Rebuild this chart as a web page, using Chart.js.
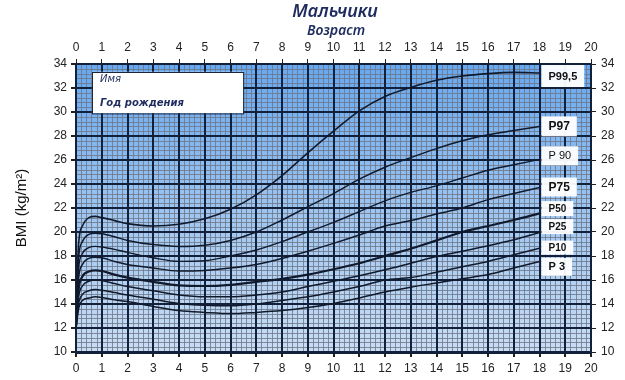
<!DOCTYPE html>
<html>
<head>
<meta charset="utf-8">
<script src="https://cdn.jsdelivr.net/npm/chart.js@4.4.1/dist/chart.umd.min.js"></script>
<style>
  html,body{margin:0;padding:0;background:#fff;}
  #wrap{width:625px;height:380px;position:relative;}
</style>
</head>
<body>
<div id="wrap"><canvas id="c" width="625" height="380"></canvas></div>
<script>
// ---- data ----
const chartTitle = 'Мальчики';
const xAxisTitle = 'Возраст';
const yAxisTitle = 'BMI (kg/m²)';
const nameLabel = 'Имя';
const birthLabel = 'Год рождения';

const ages   = [0, 0.1, 0.25, 0.5, 0.75, 1, 1.5, 2, 3, 4, 5, 6, 7, 8, 9, 10, 11, 12, 13, 14, 15, 16, 17, 18];
const p99_5  = [12.6, 19.0, 20.5, 21.2, 21.3, 21.2, 20.95, 20.7, 20.5, 20.65, 21.1, 21.9, 23.1, 24.7, 26.6, 28.4, 30.1, 31.3, 32.05, 32.65, 33.0, 33.2, 33.3, 33.25];
const p97    = [12.5, 17.8, 19.2, 19.8, 19.9, 19.85, 19.6, 19.3, 18.95, 18.8, 18.9, 19.3, 20.0, 21.0, 22.1, 23.2, 24.4, 25.4, 26.2, 26.95, 27.6, 28.1, 28.45, 28.8];
const p90    = [12.4, 16.9, 18.2, 18.7, 18.8, 18.75, 18.55, 18.3, 17.85, 17.55, 17.6, 18.0, 18.5, 19.2, 20.0, 20.8, 21.7, 22.6, 23.3, 23.85, 24.5, 25.15, 25.6, 26.05];
const p75    = [12.3, 16.1, 17.3, 17.8, 17.9, 17.85, 17.55, 17.3, 17.0, 16.75, 16.8, 17.0, 17.3, 17.8, 18.4, 19.05, 19.75, 20.5, 20.95, 21.5, 22.0, 22.7, 23.2, 23.7];
const p50    = [12.2, 15.2, 16.3, 16.7, 16.8, 16.75, 16.45, 16.2, 15.85, 15.55, 15.5, 15.6, 15.85, 16.1, 16.45, 16.9, 17.4, 18.0, 18.6, 19.3, 20.0, 20.5, 21.0, 21.55];
const p25    = [12.1, 14.6, 15.5, 15.9, 16.0, 15.95, 15.7, 15.45, 15.1, 14.75, 14.6, 14.6, 14.75, 15.0, 15.45, 15.9, 16.35, 16.85, 17.4, 17.95, 18.4, 18.85, 19.35, 19.95];
const p10    = [12.0, 14.0, 14.8, 15.1, 15.2, 15.15, 14.95, 14.75, 14.4, 14.05, 13.9, 13.85, 14.0, 14.3, 14.6, 15.0, 15.45, 16.0, 16.2, 16.65, 17.1, 17.55, 18.1, 18.65];
const p3     = [11.9, 13.6, 14.3, 14.5, 14.6, 14.55, 14.35, 14.2, 13.8, 13.45, 13.3, 13.2, 13.3, 13.45, 13.7, 14.05, 14.5, 15.0, 15.4, 15.75, 16.1, 16.45, 17.0, 17.55];

const seriesNames  = ['P99,5', 'P97', 'P 90', 'P75', 'P50', 'P25', 'P10', 'P 3'];
const seriesValues = [p99_5, p97, p90, p75, p50, p25, p10, p3];

const xTickValues = [0,1,2,3,4,5,6,7,8,9,10,11,12,13,14,15,16,17,18,19,20];
const yTickValues = [10,12,14,16,18,20,22,24,26,28,30,32,34];

// ---- styles (not data) ----
const labelAnchorBMI = [33.0, 28.8, 26.35, 23.75, 21.95, 20.45, 18.7, 17.1];
const labelBoxH      = [22, 20, 19, 19, 15, 15, 14, 18];
const labelFonts     = ['bold 11px "Liberation Sans"', 'bold 12px "Liberation Sans"', '11px "Liberation Sans"',
                        'bold 12px "Liberation Sans"', 'bold 10px "Liberation Sans"', 'bold 10px "Liberation Sans"',
                        'bold 10px "Liberation Sans"', 'bold 11px "Liberation Sans"'];
const lineWidths     = [1.6, 1.5, 1.4, 1.5, 2.2, 1.5, 1.5, 1.5];
const NAVY = '#1d2b5e';
const GRID = '#13203a';

const datasets = seriesValues.map((vals, i) => ({
  label: seriesNames[i],
  data: ages.map((a, k) => ({x: a, y: vals[k]})),
  borderColor: '#101a2c',
  borderWidth: lineWidths[i],
  pointRadius: 0,
  fill: false,
  cubicInterpolationMode: 'monotone'
}));

const bgPlugin = {
  id: 'bg',
  beforeDraw(chart) {
    const {ctx, chartArea: a, scales} = chart;
    const xs = scales.x, ys = scales.y;
    ctx.save();
    const g = ctx.createLinearGradient(0, a.top, 0, a.bottom);
    g.addColorStop(0, '#66a8f0');
    g.addColorStop(0.5, '#9cc4f0');
    g.addColorStop(1, '#c8ddf4');
    ctx.fillStyle = g;
    ctx.fillRect(a.left, a.top, a.right - a.left, a.bottom - a.top);
    ctx.strokeStyle = 'rgba(110,118,134,0.8)';
    ctx.lineWidth = 1;
    ctx.beginPath();
    for (let k = 0; k <= 100; k++) {
      if (k % 5 === 0) continue;
      const px = Math.round(xs.getPixelForValue(k * 0.2)) + 0.5;
      ctx.moveTo(px, a.top); ctx.lineTo(px, a.bottom);
    }
    for (let k = 0; k <= 60; k++) {
      if (k % 5 === 0) continue;
      const py = Math.round(ys.getPixelForValue(10 + k * 0.4)) + 0.5;
      ctx.moveTo(a.left, py); ctx.lineTo(a.right, py);
    }
    ctx.stroke();
    ctx.restore();
  },
  afterDraw(chart) {
    const {ctx, chartArea: a, scales} = chart;
    const xs = scales.x, ys = scales.y;
    ctx.save();
    // titles
    ctx.fillStyle = NAVY;
    ctx.textAlign = 'center';
    ctx.textBaseline = 'middle';
    ctx.font = 'italic 600 18px "Noto Sans"';
    ctx.fillText(chartTitle, 335, 12);
    ctx.font = 'italic 600 14px "Noto Sans"';
    ctx.fillText(xAxisTitle, 336, 31);

    // name box
    const bx1 = xs.getPixelForValue(0.62), bx2 = xs.getPixelForValue(6.49);
    const by1 = ys.getPixelForValue(33.35), by2 = ys.getPixelForValue(29.9);
    ctx.fillStyle = '#ffffff';
    ctx.fillRect(bx1, by1, bx2 - bx1, by2 - by1);
    ctx.strokeStyle = '#1b2540';
    ctx.lineWidth = 1;
    ctx.strokeRect(Math.round(bx1) + 0.5, Math.round(by1) + 0.5, bx2 - bx1, by2 - by1);
    ctx.fillStyle = NAVY;
    ctx.textAlign = 'left';
    ctx.font = 'italic 10px "DejaVu Sans"';
    ctx.fillText(nameLabel, bx1 + 8, by1 + 8);
    ctx.font = 'italic bold 10px "DejaVu Sans"';
    ctx.fillText(birthLabel, bx1 + 8, by1 + 32);

    // percentile label boxes
    const x0 = xs.getPixelForValue(18) + 2;
    seriesNames.forEach((name, i) => {
      ctx.font = labelFonts[i];
      const w = ctx.measureText(name).width + 14;
      const cy = ys.getPixelForValue(labelAnchorBMI[i]);
      const h = labelBoxH[i];
      ctx.fillStyle = 'rgba(255,255,255,0.95)';
      ctx.fillRect(x0, cy - h / 2, w, h);
      ctx.fillStyle = '#111';
      ctx.textAlign = 'center';
      ctx.fillText(name, x0 + w / 2, cy + 0.5);
    });
    ctx.restore();
  }
};

const tickFont = {family: '"Liberation Sans"', size: 12};
const fixedTicks = (vals) => (scale) => { scale.ticks = vals.map(v => ({value: v})); };

new Chart(document.getElementById('c'), {
  type: 'line',
  data: {datasets},
  plugins: [bgPlugin],
  options: {
    responsive: false,
    animation: false,
    layout: {padding: 0},
    plugins: {legend: {display: false}, tooltip: {enabled: false}, title: {display: false}},
    scales: {
      x: {
        type: 'linear', position: 'bottom', min: 0, max: 20,
        afterBuildTicks: fixedTicks(xTickValues),
        afterFit: s => { s.height = 28; },
        ticks: {font: tickFont, color: '#222', padding: 4, maxRotation: 0, autoSkip: false},
        grid: {color: GRID, lineWidth: 2, tickLength: 5, tickColor: '#222'},
        border: {color: GRID, width: 3}
      },
      x2: {
        type: 'linear', position: 'top', min: 0, max: 20,
        afterBuildTicks: fixedTicks(xTickValues),
        afterFit: s => { s.height = 64; },
        ticks: {font: tickFont, color: '#222', padding: 4, maxRotation: 0, autoSkip: false},
        grid: {drawOnChartArea: false, tickLength: 5, tickColor: '#222'},
        border: {color: GRID, width: 2}
      },
      y: {
        type: 'linear', position: 'left', min: 10, max: 34,
        afterBuildTicks: fixedTicks(yTickValues),
        afterFit: s => { s.width = 76; },
        ticks: {font: tickFont, color: '#222', padding: 4, autoSkip: false},
        grid: {color: GRID, lineWidth: 2, tickLength: 5, tickColor: '#222'},
        border: {color: GRID, width: 2},
        title: {display: true, text: yAxisTitle, color: '#111', font: {family: '"Liberation Sans"', size: 15}, padding: {top: 13, bottom: 0}}
      },
      y2: {
        type: 'linear', position: 'right', min: 10, max: 34,
        afterBuildTicks: fixedTicks(yTickValues),
        afterFit: s => { s.width = 34; },
        ticks: {font: tickFont, color: '#222', padding: 5, autoSkip: false},
        grid: {drawOnChartArea: false, tickLength: 5, tickColor: '#222'},
        border: {color: GRID, width: 2}
      }
    }
  }
});
</script>
</body>
</html>
